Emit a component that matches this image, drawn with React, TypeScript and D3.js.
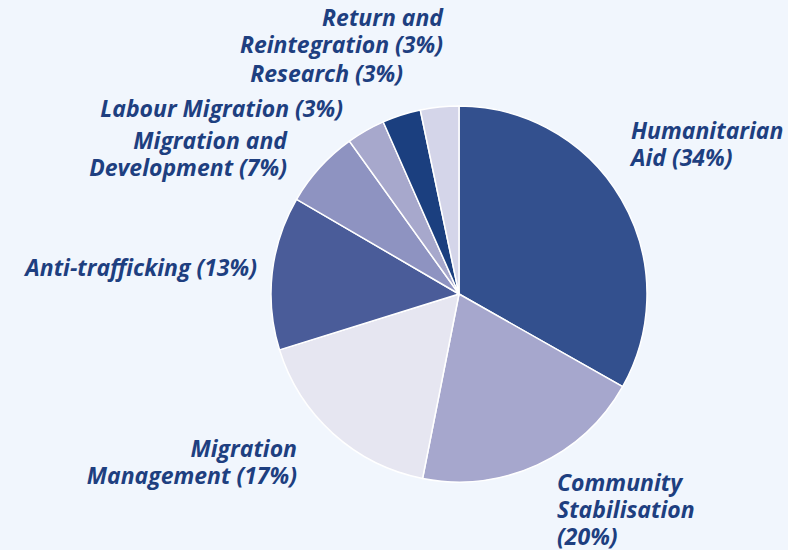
import React from "react";
import * as d3 from "d3";

const categories = [
  "Humanitarian Aid",
  "Community Stabilisation",
  "Migration Management",
  "Anti-trafficking",
  "Migration and Development",
  "Labour Migration",
  "Research",
  "Return and Reintegration",
];
const values = [33.2, 19.9, 17.1, 13.2, 6.7, 3.3, 3.3, 3.3];
const colors = ["#33508e", "#a6a7cd", "#e6e6f1", "#4a5c99", "#8e93c1", "#a7a8cc", "#1b3f7f", "#d4d5e9"];
const labelLines = [
  ["Humanitarian", "Aid (34%)"],
  ["Community", "Stabilisation", "(20%)"],
  ["Migration", "Management (17%)"],
  ["Anti-trafficking (13%)"],
  ["Migration and", "Development (7%)"],
  ["Labour Migration (3%)"],
  ["Research (3%)"],
  ["Return and", "Reintegration (3%)"],
];
// label anchor: [x, first baseline y, anchor]
const labelPos: [number, number, "start" | "end"][] = [
  [631, 139, "start"],
  [557, 491, "start"],
  [297, 457, "end"],
  [257, 276, "end"],
  [287, 149, "end"],
  [343, 117, "end"],
  [403, 82, "end"],
  [443, 26, "end"],
];

export default function App() {
  const W = 788, H = 550;
  const cx = 459, cy = 294, r = 188;
  const pie = d3.pie<number>().sort(null).value((d) => d);
  const arcs = pie(values);
  const arc = d3.arc<d3.PieArcDatum<number>>().innerRadius(0).outerRadius(r);
  return (
    <svg width={W} height={H} style={{ position: "absolute", left: 0, top: 0, background: "#f1f6fd" }}>
      <rect width={W} height={H} fill="#f1f6fd" />
      <g transform={`translate(${cx},${cy})`}>
        {arcs.map((a, i) => (
          <path key={i} d={arc(a) || ""} fill={colors[i]} stroke="#ffffff" strokeWidth={1.5} />
        ))}
      </g>
      {labelLines.map((lines, i) => (
        <text
          key={i}
          x={labelPos[i][0]}
          y={labelPos[i][1]}
          textAnchor={labelPos[i][2]}
          fill="#1e3f80"
          fontFamily="'Open Sans', sans-serif"
          fontStyle="italic"
          fontWeight={700}
          fontSize={23}
        >
          {lines.map((l, j) => (
            <tspan key={j} x={labelPos[i][0]} dy={j === 0 ? 0 : 27}>
              {l}
            </tspan>
          ))}
        </text>
      ))}
    </svg>
  );
}
